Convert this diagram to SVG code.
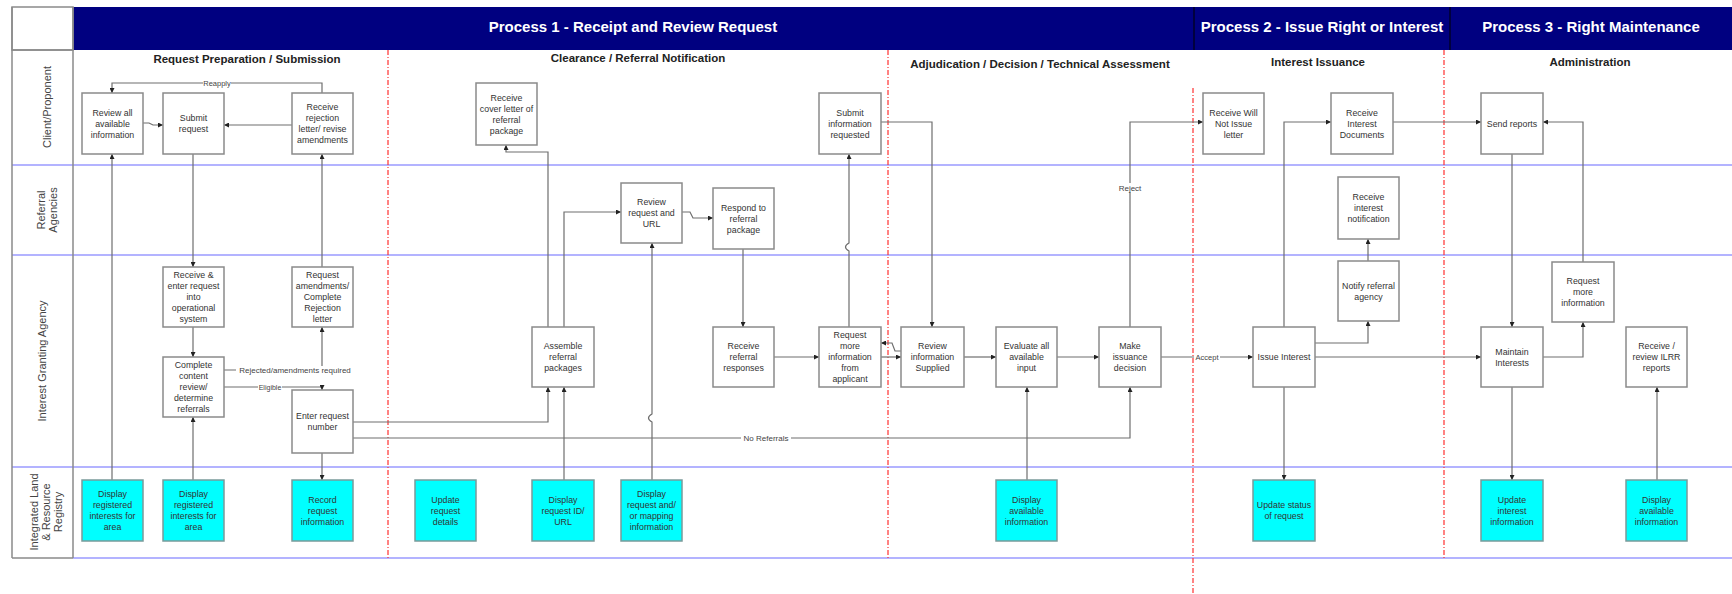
<svg xmlns="http://www.w3.org/2000/svg" width="1732" height="594" viewBox="0 0 1732 594">
<style>
.bx{fill:#fff;stroke:#8a8a8a;stroke-width:1.5}
.cy{fill:#00ffff;stroke:#7a9a9a;stroke-width:1.5}
.bt{font-family:"Liberation Sans",Arial,sans-serif;font-size:8.8px;fill:#333;text-anchor:middle}
.cn{fill:none;stroke:#6e6e6e;stroke-width:1.2;marker-end:url(#ah)}
.cl{fill:none;stroke:#6e6e6e;stroke-width:1.2}
.lb{font-family:"Liberation Sans",Arial,sans-serif;font-size:7.5px;fill:#444;text-anchor:middle}
.ht{font-family:"Liberation Sans",Arial,sans-serif;font-size:15px;font-weight:bold;fill:#fff;text-anchor:middle}
.st{font-family:"Liberation Sans",Arial,sans-serif;font-size:11.5px;font-weight:bold;fill:#222;text-anchor:middle}
.ln{font-family:"Liberation Sans",Arial,sans-serif;font-size:11px;fill:#444;text-anchor:middle}
.lane{stroke:#9a9aff;stroke-width:1.5}
.gl{stroke:#8a8a8a;stroke-width:1.5}
.rd{stroke:#ff3030;stroke-width:1.2;stroke-dasharray:5 2 1 2}
</style>
<defs>
<marker id="ah" viewBox="0 0 6 6" refX="6" refY="3" markerWidth="5" markerHeight="5" markerUnits="userSpaceOnUse" orient="auto"><path d="M0,0 L6,3 L0,6 z" fill="#222"/></marker>
</defs>
<rect width="1732" height="594" fill="#fff"/>

<g id="frame">
<rect x="73" y="7" width="1659" height="43" fill="#000080"/>
<line x1="1194" y1="7" x2="1194" y2="50" stroke="#00002a" stroke-width="1.5"/>
<line x1="1450" y1="7" x2="1450" y2="50" stroke="#00002a" stroke-width="1.5"/>
<rect x="12" y="7" width="61" height="43" fill="#fff" class="gl"/>
<text class="ht" x="633" y="32">Process 1 - Receipt and Review Request</text>
<text class="ht" x="1322" y="32">Process 2 - Issue Right or Interest</text>
<text class="ht" x="1591" y="32">Process 3 - Right Maintenance</text>
<line class="gl" x1="12" y1="50" x2="73" y2="50"/>
<line class="lane" x1="12" y1="165" x2="1732" y2="165"/>
<line class="lane" x1="12" y1="255" x2="1732" y2="255"/>
<line class="lane" x1="12" y1="467" x2="1732" y2="467"/>
<line class="lane" x1="73" y1="558" x2="1732" y2="558"/>
<line class="gl" x1="12" y1="558" x2="73" y2="558"/>
<line class="gl" x1="12" y1="7" x2="12" y2="558"/>
<line class="gl" x1="73" y1="7" x2="73" y2="558"/>
<text class="ln" transform="translate(51,107) rotate(-90)">Client/Proponent</text>
<text class="ln" transform="translate(45,210) rotate(-90)">Referral</text>
<text class="ln" transform="translate(57,210) rotate(-90)">Agencies</text>
<text class="ln" transform="translate(46,361) rotate(-90)">Interest Granting Agency</text>
<text class="ln" transform="translate(38,512) rotate(-90)">Integrated Land</text>
<text class="ln" transform="translate(50,512) rotate(-90)">&amp; Resource</text>
<text class="ln" transform="translate(62,512) rotate(-90)">Registry</text>
<text class="st" x="247" y="63">Request Preparation / Submission</text>
<text class="st" x="638" y="62">Clearance / Referral Notification</text>
<text class="st" x="1040" y="68">Adjudication / Decision / Technical Assessment</text>
<text class="st" x="1318" y="66">Interest Issuance</text>
<text class="st" x="1590" y="66">Administration</text>
<line class="rd" x1="388" y1="50" x2="388" y2="558"/>
<line class="rd" x1="888" y1="50" x2="888" y2="558"/>
<line class="rd" x1="1193" y1="88" x2="1193" y2="594"/>
<line class="rd" x1="1444" y1="50" x2="1444" y2="558"/>
</g>

<g id="connectors">
<path class="cn" d="M322 93 L322 83 L112 83 L112 93"/>
<path class="cn" d="M143 123 L149 123 L153 125 L163 125"/>
<path class="cn" d="M292 125 L224 125"/>
<path class="cn" d="M193 154 L193 267"/>
<path class="cn" d="M322 267 L322 154"/>
<path class="cn" d="M193 327 L193 357"/>
<path class="cn" d="M224 370 L322 370 L322 327"/>
<path class="cn" d="M224 387 L322 387 L322 390"/>
<path class="cn" d="M352 422 L548 422 L548 387"/>
<path class="cn" d="M352 438 L1130 438 L1130 387"/>
<path class="cn" d="M322 453 L322 480"/>
<path class="cn" d="M112 480 L112 154"/>
<path class="cn" d="M193 480 L193 417"/>
<path class="cn" d="M548 327 L548 152 L506 152 L506 145"/>
<path class="cn" d="M564 327 L564 212 L621 212"/>
<path class="cn" d="M564 480 L564 387"/>
<path class="cn" d="M652 480 L652 422 Q645 418 652 414 L652 243"/>
<path class="cn" d="M682 212 L690 212 L693 218 L713 218"/>
<path class="cn" d="M743 249 L743 327"/>
<path class="cn" d="M774 357 L819 357"/>
<path class="cn" d="M849 327 L849 251 Q842 247 849 243 L849 154"/>
<path class="cn" d="M881 122 L932 122 L932 327"/>
<path class="cn" d="M881 357 L901 357"/>
<path class="cn" d="M901 351 L895 351 L892 343 L881 343"/>
<path class="cn" d="M964 357 L996 357"/>
<path class="cn" d="M1057 357 L1099 357"/>
<path class="cn" d="M1027 480 L1027 387"/>
<path class="cn" d="M1130 327 L1130 122 L1203 122"/>
<path class="cn" d="M1161 357 L1253 357"/>
<path class="cn" d="M1284 387 L1284 480"/>
<path class="cn" d="M1284 327 L1284 122 L1331 122"/>
<path class="cn" d="M1393 122 L1481 122"/>
<path class="cn" d="M1315 343 L1368 343 L1368 321"/>
<path class="cn" d="M1368 261 L1368 239"/>
<path class="cn" d="M1315 357 L1481 357"/>
<path class="cn" d="M1512 154 L1512 327"/>
<path class="cn" d="M1543 357 L1583 357 L1583 322"/>
<path class="cn" d="M1583 262 L1583 122 L1543 122"/>
<path class="cn" d="M1512 387 L1512 480"/>
<path class="cn" d="M1657 480 L1657 387"/>
<rect x="203" y="79" width="28" height="8" fill="#fff"/>
<text class="lb" x="217" y="85.5">Reapply</text>
<rect x="236" y="366" width="118" height="8" fill="#fff"/>
<text class="lb" x="295" y="372.5" style="font-size:8px">Rejected/amendments required</text>
<rect x="258" y="383" width="24" height="8" fill="#fff"/>
<text class="lb" x="270" y="389.5" style="font-size:7px">Eligible</text>
<rect x="741" y="434" width="50" height="8" fill="#fff"/>
<text class="lb" x="766" y="440.5" style="font-size:8px">No Referrals</text>
<rect x="1116" y="183" width="28" height="9" fill="#fff"/>
<text class="lb" x="1130" y="190.5" style="font-size:8px">Reject</text>
<rect x="1194" y="353" width="26" height="8" fill="#fff"/>
<text class="lb" x="1207" y="359.5">Accept</text>
</g>

<g id="n_review_all"><rect class="bx" x="82" y="93" width="61" height="61"/><text class="bt" x="112.5" y="115.5"><tspan x="112.5">Review all</tspan><tspan x="112.5" dy="11">available</tspan><tspan x="112.5" dy="11">information</tspan></text></g>
<g id="n_submit"><rect class="bx" x="163" y="93" width="61" height="61"/><text class="bt" x="193.5" y="121"><tspan x="193.5">Submit</tspan><tspan x="193.5" dy="11">request</tspan></text></g>
<g id="n_rejection"><rect class="bx" x="292" y="93" width="61" height="61"/><text class="bt" x="322.5" y="110"><tspan x="322.5">Receive</tspan><tspan x="322.5" dy="11">rejection</tspan><tspan x="322.5" dy="11">letter/ revise</tspan><tspan x="322.5" dy="11">amendments</tspan></text></g>
<g id="n_cover"><rect class="bx" x="476" y="83" width="61" height="62"/><text class="bt" x="506.5" y="100.5"><tspan x="506.5">Receive</tspan><tspan x="506.5" dy="11">cover letter of</tspan><tspan x="506.5" dy="11">referral</tspan><tspan x="506.5" dy="11">package</tspan></text></g>
<g id="n_submit_info"><rect class="bx" x="819" y="93" width="62" height="61"/><text class="bt" x="850" y="115.5"><tspan x="850">Submit</tspan><tspan x="850" dy="11">information</tspan><tspan x="850" dy="11">requested</tspan></text></g>
<g id="n_will_not"><rect class="bx" x="1203" y="93" width="61" height="61"/><text class="bt" x="1233.5" y="115.5"><tspan x="1233.5">Receive Will</tspan><tspan x="1233.5" dy="11">Not Issue</tspan><tspan x="1233.5" dy="11">letter</tspan></text></g>
<g id="n_interest_docs"><rect class="bx" x="1331" y="93" width="62" height="61"/><text class="bt" x="1362" y="115.5"><tspan x="1362">Receive</tspan><tspan x="1362" dy="11">Interest</tspan><tspan x="1362" dy="11">Documents</tspan></text></g>
<g id="n_send_reports"><rect class="bx" x="1481" y="93" width="62" height="61"/><text class="bt" x="1512" y="126.5">Send reports</text></g>
<g id="n_review_url"><rect class="bx" x="621" y="183" width="61" height="60"/><text class="bt" x="651.5" y="205"><tspan x="651.5">Review</tspan><tspan x="651.5" dy="11">request and</tspan><tspan x="651.5" dy="11">URL</tspan></text></g>
<g id="n_respond"><rect class="bx" x="713" y="188" width="61" height="61"/><text class="bt" x="743.5" y="210.5"><tspan x="743.5">Respond to</tspan><tspan x="743.5" dy="11">referral</tspan><tspan x="743.5" dy="11">package</tspan></text></g>
<g id="n_interest_notif"><rect class="bx" x="1338" y="177" width="61" height="62"/><text class="bt" x="1368.5" y="199.5"><tspan x="1368.5">Receive</tspan><tspan x="1368.5" dy="11">interest</tspan><tspan x="1368.5" dy="11">notification</tspan></text></g>
<g id="n_receive_enter"><rect class="bx" x="163" y="267" width="61" height="60"/><text class="bt" x="193.5" y="278"><tspan x="193.5">Receive &amp;</tspan><tspan x="193.5" dy="11">enter request</tspan><tspan x="193.5" dy="11">into</tspan><tspan x="193.5" dy="11">operational</tspan><tspan x="193.5" dy="11">system</tspan></text></g>
<g id="n_request_amend"><rect class="bx" x="292" y="267" width="61" height="60"/><text class="bt" x="322.5" y="278"><tspan x="322.5">Request</tspan><tspan x="322.5" dy="11">amendments/</tspan><tspan x="322.5" dy="11">Complete</tspan><tspan x="322.5" dy="11">Rejection</tspan><tspan x="322.5" dy="11">letter</tspan></text></g>
<g id="n_notify"><rect class="bx" x="1338" y="261" width="61" height="60"/><text class="bt" x="1368.5" y="289"><tspan x="1368.5">Notify referral</tspan><tspan x="1368.5" dy="11">agency</tspan></text></g>
<g id="n_request_more3"><rect class="bx" x="1552" y="262" width="62" height="60"/><text class="bt" x="1583" y="284"><tspan x="1583">Request</tspan><tspan x="1583" dy="11">more</tspan><tspan x="1583" dy="11">information</tspan></text></g>
<g id="n_complete"><rect class="bx" x="163" y="357" width="61" height="60"/><text class="bt" x="193.5" y="368"><tspan x="193.5">Complete</tspan><tspan x="193.5" dy="11">content</tspan><tspan x="193.5" dy="11">review/</tspan><tspan x="193.5" dy="11">determine</tspan><tspan x="193.5" dy="11">referrals</tspan></text></g>
<g id="n_enter"><rect class="bx" x="292" y="390" width="61" height="63"/><text class="bt" x="322.5" y="419"><tspan x="322.5">Enter request</tspan><tspan x="322.5" dy="11">number</tspan></text></g>
<g id="n_assemble"><rect class="bx" x="532" y="327" width="62" height="60"/><text class="bt" x="563" y="349"><tspan x="563">Assemble</tspan><tspan x="563" dy="11">referral</tspan><tspan x="563" dy="11">packages</tspan></text></g>
<g id="n_responses"><rect class="bx" x="713" y="327" width="61" height="60"/><text class="bt" x="743.5" y="349"><tspan x="743.5">Receive</tspan><tspan x="743.5" dy="11">referral</tspan><tspan x="743.5" dy="11">responses</tspan></text></g>
<g id="n_request_more"><rect class="bx" x="819" y="327" width="62" height="60"/><text class="bt" x="850" y="338"><tspan x="850">Request</tspan><tspan x="850" dy="11">more</tspan><tspan x="850" dy="11">information</tspan><tspan x="850" dy="11">from</tspan><tspan x="850" dy="11">applicant</tspan></text></g>
<g id="n_review_info"><rect class="bx" x="901" y="327" width="63" height="60"/><text class="bt" x="932.5" y="349"><tspan x="932.5">Review</tspan><tspan x="932.5" dy="11">information</tspan><tspan x="932.5" dy="11">Supplied</tspan></text></g>
<g id="n_evaluate"><rect class="bx" x="996" y="327" width="61" height="60"/><text class="bt" x="1026.5" y="349"><tspan x="1026.5">Evaluate all</tspan><tspan x="1026.5" dy="11">available</tspan><tspan x="1026.5" dy="11">input</tspan></text></g>
<g id="n_make"><rect class="bx" x="1099" y="327" width="62" height="60"/><text class="bt" x="1130" y="349"><tspan x="1130">Make</tspan><tspan x="1130" dy="11">issuance</tspan><tspan x="1130" dy="11">decision</tspan></text></g>
<g id="n_issue"><rect class="bx" x="1253" y="327" width="62" height="60"/><text class="bt" x="1284" y="360">Issue Interest</text></g>
<g id="n_maintain"><rect class="bx" x="1481" y="327" width="62" height="60"/><text class="bt" x="1512" y="354.5"><tspan x="1512">Maintain</tspan><tspan x="1512" dy="11">Interests</tspan></text></g>
<g id="n_receive_ilrr"><rect class="bx" x="1626" y="327" width="61" height="60"/><text class="bt" x="1656.5" y="349"><tspan x="1656.5">Receive /</tspan><tspan x="1656.5" dy="11">review ILRR</tspan><tspan x="1656.5" dy="11">reports</tspan></text></g>
<g id="n_disp1"><rect class="cy" x="82" y="480" width="61" height="61"/><text class="bt" x="112.5" y="497"><tspan x="112.5">Display</tspan><tspan x="112.5" dy="11">registered</tspan><tspan x="112.5" dy="11">interests for</tspan><tspan x="112.5" dy="11">area</tspan></text></g>
<g id="n_disp2"><rect class="cy" x="163" y="480" width="61" height="61"/><text class="bt" x="193.5" y="497"><tspan x="193.5">Display</tspan><tspan x="193.5" dy="11">registered</tspan><tspan x="193.5" dy="11">interests for</tspan><tspan x="193.5" dy="11">area</tspan></text></g>
<g id="n_record"><rect class="cy" x="292" y="480" width="61" height="61"/><text class="bt" x="322.5" y="502.5"><tspan x="322.5">Record</tspan><tspan x="322.5" dy="11">request</tspan><tspan x="322.5" dy="11">information</tspan></text></g>
<g id="n_update_details"><rect class="cy" x="415" y="480" width="61" height="61"/><text class="bt" x="445.5" y="502.5"><tspan x="445.5">Update</tspan><tspan x="445.5" dy="11">request</tspan><tspan x="445.5" dy="11">details</tspan></text></g>
<g id="n_disp_id"><rect class="cy" x="532" y="480" width="62" height="61"/><text class="bt" x="563" y="502.5"><tspan x="563">Display</tspan><tspan x="563" dy="11">request ID/</tspan><tspan x="563" dy="11">URL</tspan></text></g>
<g id="n_disp_map"><rect class="cy" x="621" y="480" width="61" height="61"/><text class="bt" x="651.5" y="497"><tspan x="651.5">Display</tspan><tspan x="651.5" dy="11">request and/</tspan><tspan x="651.5" dy="11">or mapping</tspan><tspan x="651.5" dy="11">information</tspan></text></g>
<g id="n_disp_avail"><rect class="cy" x="996" y="480" width="61" height="61"/><text class="bt" x="1026.5" y="502.5"><tspan x="1026.5">Display</tspan><tspan x="1026.5" dy="11">available</tspan><tspan x="1026.5" dy="11">information</tspan></text></g>
<g id="n_update_status"><rect class="cy" x="1253" y="480" width="62" height="61"/><text class="bt" x="1284" y="508"><tspan x="1284">Update status</tspan><tspan x="1284" dy="11">of request</tspan></text></g>
<g id="n_update_interest"><rect class="cy" x="1481" y="480" width="62" height="61"/><text class="bt" x="1512" y="502.5"><tspan x="1512">Update</tspan><tspan x="1512" dy="11">interest</tspan><tspan x="1512" dy="11">information</tspan></text></g>
<g id="n_disp_avail2"><rect class="cy" x="1626" y="480" width="61" height="61"/><text class="bt" x="1656.5" y="502.5"><tspan x="1656.5">Display</tspan><tspan x="1656.5" dy="11">available</tspan><tspan x="1656.5" dy="11">information</tspan></text></g>
</svg>
